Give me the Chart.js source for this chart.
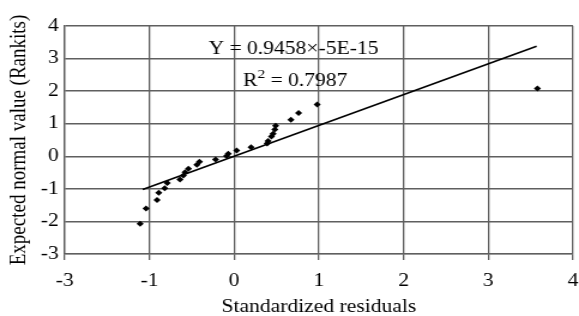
<!DOCTYPE html>
<html>
<head>
<meta charset="utf-8">
<script src="https://cdn.jsdelivr.net/npm/chart.js@4"></script>
<style>
  html, body { margin: 0; padding: 0; background: #fff; overflow: hidden; }
  /* the original picture is stretched sideways, so draw narrow and stretch */
  #myChart { display: block; width: 579px; height: 316px; }
</style>
</head>
<body>
<canvas id="myChart" width="483" height="316" style="width:579px;height:316px"></canvas>
<script>
// residuals vs expected normal values
var residuals = [-1.11, -1.04, -0.91, -0.89, -0.82, -0.79, -0.64, -0.60, -0.58, -0.54, -0.44, -0.41, -0.22, -0.09, -0.07, 0.03, 0.20, 0.39, 0.40, 0.44, 0.46, 0.48, 0.49, 0.67, 0.76, 0.98, 3.58];
var rankits = [-2.07, -1.60, -1.34, -1.12, -0.98, -0.82, -0.71, -0.59, -0.49, -0.38, -0.26, -0.17, -0.10, 0.01, 0.08, 0.18, 0.28, 0.39, 0.47, 0.61, 0.69, 0.82, 0.94, 1.12, 1.33, 1.59, 2.08];

// trend line: Y = 0.9458x - 5E-15
var slope = 0.9458;
var intercept = -5e-15;
var fitX = [-1.08, 3.57];

var xTickLabels = ['-3', '-1', '0', '1', '2', '3', '4'];
var yTickLabels = ['-3', '-2', '-1', '0', '1', '2', '3', '4'];

var points = residuals.map(function (x, i) { return { x: x, y: rankits[i] }; });
var fitLine = fitX.map(function (x) { return { x: x, y: slope * x + intercept }; });

var serif = '"Liberation Serif", "Times New Roman", serif';
var gridGray = 'rgba(95,95,95,1)';

var labelPlugin = {
    id: 'equation',
    afterDatasetsDraw: function (chart) {
        var c = chart.ctx;
        var xs = chart.scales.x, ys = chart.scales.y;
        c.save();
        c.fillStyle = '#000';
        c.textBaseline = 'middle';
        c.font = '18px ' + serif;
        c.textAlign = 'center';
        c.fillText('Y = 0.9458\u00d7-5E-15', xs.getPixelForValue(0.7), ys.getPixelForValue(3.29));
        // R squared with raised 2
        var a = 'R', b = ' = 0.7987';
        var wa = c.measureText(a).width, wb = c.measureText(b).width;
        c.font = '13px ' + serif;
        var w2 = c.measureText('2').width;
        var x0 = xs.getPixelForValue(0.72) - (wa + w2 + wb) / 2;
        var yr = ys.getPixelForValue(2.31);
        c.textAlign = 'left';
        c.font = '18px ' + serif;
        c.fillText(a, x0, yr);
        c.font = '13px ' + serif;
        c.fillText('2', x0 + wa, yr - 6);
        c.font = '18px ' + serif;
        c.fillText(b, x0 + wa + w2, yr);
        c.restore();
    }
};

var ctx = document.getElementById('myChart').getContext('2d');
var myChart = new Chart(ctx, {
    type: 'scatter',
    data: {
        datasets: [{
            label: 'Residuals',
            data: points,
            pointStyle: 'rectRot',
            pointRadius: 3,
            pointHoverRadius: 3,
            backgroundColor: '#000',
            borderColor: '#000',
            borderWidth: 0
        }, {
            label: 'Trend',
            type: 'line',
            data: fitLine,
            borderColor: '#000',
            borderWidth: 1.6,
            pointRadius: 0,
            fill: false
        }]
    },
    options: {
        responsive: false,
        maintainAspectRatio: false,
        animation: false,
        devicePixelRatio: 1,
        layout: { padding: { top: 26, right: 5, left: 0, bottom: 0 } },
        plugins: {
            legend: { display: false },
            tooltip: { enabled: false }
        },
        scales: {
            x: {
                type: 'linear',
                min: -2,
                max: 4,
                afterFit: function (s) {
                    s.height = 62;
                    s.paddingLeft = 0;
                    s.paddingRight = 0;
                },
                ticks: {
                    stepSize: 1,
                    color: '#000',
                    font: { family: serif, size: 18 },
                    padding: 10,
                    maxRotation: 0,
                    callback: function (v, i) { return xTickLabels[i]; }
                },
                grid: { color: gridGray, lineWidth: 1.3, drawTicks: true, tickLength: 6 },
                border: { color: gridGray, width: 1.3 },
                title: {
                    display: true,
                    text: 'Standardized residuals',
                    color: '#000',
                    font: { family: serif, size: 18, lineHeight: 1 },
                    padding: { top: 0, bottom: 0 }
                }
            },
            y: {
                min: -3,
                max: 4,
                afterFit: function (s) {
                    s.width = 54;
                    s.paddingTop = 0;
                    s.paddingBottom = 0;
                },
                ticks: {
                    stepSize: 1,
                    color: '#000',
                    font: { family: serif, size: 18 },
                    padding: 5,
                    callback: function (v, i) { return yTickLabels[i]; }
                },
                grid: { color: gridGray, lineWidth: 1.5, drawTicks: false },
                border: { color: gridGray, width: 1.3 },
                title: {
                    display: true,
                    text: 'Expected normal value (Rankits)',
                    color: '#000',
                    font: { family: serif, size: 19, lineHeight: 1 },
                    padding: { top: 7, bottom: 0 }
                }
            }
        }
    },
    plugins: [labelPlugin]
});
</script>
</body>
</html>
